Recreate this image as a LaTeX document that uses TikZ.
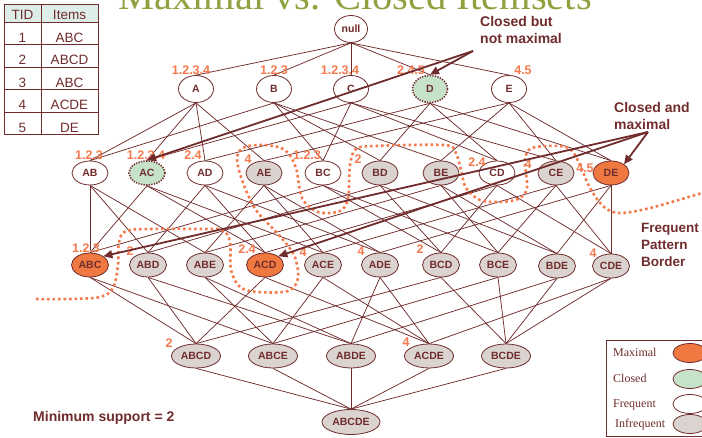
\documentclass[tikz,border=0pt]{standalone}
\usepackage{fontspec}
\setmainfont{Liberation Sans}
\newfontfamily\serifface{Liberation Serif}
\usetikzlibrary{shapes.geometric,backgrounds,arrows.meta}

\definecolor{lineclr}{RGB}{112,44,44}
\definecolor{supclr}{RGB}{244,121,76}
\definecolor{maxclr}{RGB}{240,121,66}
\definecolor{clsclr}{RGB}{198,227,201}
\definecolor{infclr}{RGB}{218,211,208}
\definecolor{titleclr}{RGB}{143,162,64}
\definecolor{headclr}{RGB}{221,237,232}

\begin{document}
\begin{tikzpicture}[x=1pt,y=-1pt,
  set/.style={ellipse,draw=lineclr,line width=0.8pt,inner sep=0pt,text=lineclr,
              font=\bfseries\fontsize{10.5}{12}\selectfont},
  freq/.style={set,fill=white},
  infreq/.style={set,fill=infclr},
  maxi/.style={set,fill=maxclr},
  closedset/.style={set,fill=clsclr,line width=1.6pt,dash pattern=on 1.3pt off 1.3pt},
  lvla/.style={minimum width=35pt,minimum height=27pt},
  lvlb/.style={minimum width=36pt,minimum height=24pt},
  lvlc/.style={minimum width=37pt,minimum height=24pt},
  lvld/.style={minimum width=49pt,minimum height=24pt},
  lvle/.style={minimum width=58pt,minimum height=25pt},
  sup/.style={text=supclr,inner sep=0pt,font=\bfseries\fontsize{12.5}{14}\selectfont},
  note/.style={text=lineclr,inner sep=0pt,align=left,anchor=base west,
               font=\bfseries\fontsize{14}{17}\selectfont},
  tabtext/.style={text=lineclr,inner sep=0pt,anchor=base,font=\fontsize{13.5}{15}\selectfont},
  legtext/.style={text=lineclr,inner sep=0pt,anchor=base west,font=\serifface\fontsize{12}{14}\selectfont},
  edge/.style={draw=lineclr,line width=0.75pt},
  callout/.style={draw=lineclr,line width=1.8pt,-{Triangle[length=9pt,width=8pt]}},
  fpb/.style={draw=supclr,line width=2.6pt,dash pattern=on 2.6pt off 2.9pt}
]
\useasboundingbox (0,0) rectangle (702,438);
\clip (0,0) rectangle (702,438);

% title (runs off the top edge)
\node[anchor=base,text=titleclr,inner sep=0pt,font=\serifface\fontsize{40.5}{42}\selectfont]
  (title) at (355,10) {Maximal vs. Closed Itemsets};

% transaction table
\fill[headclr] (4,4) rectangle (98,22);
\draw[lineclr,line width=0.9pt] (4,4) rectangle (98,134.5);
\foreach \yy in {22,44.5,67,89.5,112} \draw[lineclr,line width=0.9pt] (4,\yy) -- (98,\yy);
\draw[lineclr,line width=0.9pt] (41,4) -- (41,134.5);
\node[tabtext] (tidH) at (22.5,20) {TID};
\node[tabtext] (itemsH) at (69.5,20) {Items};
\foreach \r/\yy/\it in {1/42.5/ABC,2/65/ABCD,3/87.5/ABC,4/110/ACDE,5/132.5/DE}{
  \node[tabtext] (tid\r) at (22.5,\yy) {\r};
  \node[tabtext] (items\r) at (69.5,\yy) {\it};
}

% itemset lattice
\node[freq,minimum width=33pt,minimum height=27pt] (null) at (351,29) {null};

\node[freq,lvla] (A) at (196,89) {A};
\node[freq,lvla] (B) at (274,89) {B};
\node[freq,lvla] (C) at (351,89) {C};
\node[closedset,lvla] (D) at (430,89) {D};
\node[freq,lvla] (E) at (509,89) {E};

\node[freq,lvlb] (AB) at (90,173) {AB};
\node[closedset,lvlb] (AC) at (147,173) {AC};
\node[freq,lvlb] (AD) at (205,173) {AD};
\node[infreq,lvlb] (AE) at (264,173) {AE};
\node[freq,lvlb] (BC) at (323,173) {BC};
\node[infreq,lvlb] (BD) at (380,173) {BD};
\node[infreq,lvlb] (BE) at (441,173) {BE};
\node[freq,lvlb] (CD) at (497,173) {CD};
\node[infreq,lvlb] (CE) at (556,173) {CE};
\node[maxi,lvlb] (DE) at (611,173) {DE};

\node[maxi,lvlc] (ABC) at (90,265) {ABC};
\node[infreq,lvlc] (ABD) at (148,265) {ABD};
\node[infreq,lvlc] (ABE) at (205,265) {ABE};
\node[maxi,lvlc] (ACD) at (265,265) {ACD};
\node[infreq,lvlc] (ACE) at (323,265) {ACE};
\node[infreq,lvlc] (ADE) at (380,265) {ADE};
\node[infreq,lvlc] (BCD) at (441,265) {BCD};
\node[infreq,lvlc] (BCE) at (498,265) {BCE};
\node[infreq,lvlc] (BDE) at (557,266) {BDE};
\node[infreq,lvlc] (CDE) at (611,266) {CDE};

\node[infreq,lvld] (ABCD) at (196,356) {ABCD};
\node[infreq,lvld] (ABCE) at (273,356) {ABCE};
\node[infreq,lvld] (ABDE) at (351,356) {ABDE};
\node[infreq,lvld] (ACDE) at (429,356) {ACDE};
\node[infreq,lvld] (BCDE) at (506,356) {BCDE};

\node[infreq,lvle] (ABCDE) at (351,422) {ABCDE};

% subset edges, behind the ellipses
\begin{scope}[on background layer]
\foreach \c/\ps in {A/{null},B/{null},C/{null},D/{null},E/{null},
  AB/{A,B},AC/{A,C},AD/{A,D},AE/{A,E},BC/{B,C},BD/{B,D},BE/{B,E},CD/{C,D},CE/{C,E},DE/{D,E},
  ABC/{AB,AC,BC},ABD/{AB,AD,BD},ABE/{AB,AE,BE},ACD/{AC,AD,CD},ACE/{AC,AE,CE},
  ADE/{AD,AE,DE},BCD/{BC,BD,CD},BCE/{BC,BE,CE},BDE/{BD,BE,DE},CDE/{CD,CE,DE},
  ABCD/{ABC,ABD,ACD,BCD},ABCE/{ABC,ABE,ACE,BCE},ABDE/{ABD,ABE,ADE,BDE},
  ACDE/{ACD,ACE,ADE,CDE},BCDE/{BCD,BCE,BDE,CDE},
  ABCDE/{ABCD,ABCE,ABDE,ACDE,BCDE}}{
  \foreach \p in \ps {\draw[edge] (\p.south) -- (\c.north);}
}
\end{scope}

% supporting transaction ids
\node[sup] (tA) at (191,70) {1.2.3.4};
\node[sup] (tB) at (274,70) {1.2.3};
\node[sup] (tC) at (340,70) {1.2.3.4};
\node[sup] (tD) at (411,70) {2.4.5};
\node[sup] (tE) at (523,70) {4.5};
\node[sup] (tAB) at (89,155) {1.2.3};
\node[sup] (tAC) at (146,155) {1.2.3.4};
\node[sup] (tAD) at (193,155) {2.4};
\node[sup] (tAE) at (248,159) {4};
\node[sup] (tBC) at (307,155) {1.2.3};
\node[sup] (tBD) at (358,159) {2};
\node[sup] (tCD) at (477,162) {2.4};
\node[sup] (tCE) at (528,164) {4};
\node[sup] (tDE) at (585,168) {4.5};
\node[sup] (tABC) at (86,248) {1.2.3};
\node[sup] (tABD) at (130,251) {2};
\node[sup] (tACD) at (247,249) {2.4};
\node[sup] (tACE) at (303,252) {4};
\node[sup] (tADE) at (361,251) {4};
\node[sup] (tBCD) at (420,249) {2};
\node[sup] (tCDE) at (593,253) {4};
\node[sup] (tABCD) at (169,343) {2};
\node[sup] (tACDE) at (406,342) {4};

% frequent pattern border
\draw[fpb] plot[smooth,tension=0.55] coordinates {
  (36,299) (70,299) (100,297) (113,288) (118,265) (119,242) (126,231) (150,229)
  (200,229) (222,230) (230,242) (231,270) (240,287) (258,292) (288,291) (298,278)
  (294,255) (278,234) (256,210) (242,180) (237,157) (245,147) (265,145) (285,150)
  (296,168) (302,198) (318,212) (340,211) (348,198) (350,165) (356,149) (375,146)
  (443,145) (455,151) (461,170) (466,188) (480,200) (500,202) (518,199) (527,188)
  (525,160) (532,148) (560,146) (572,151) (580,165) (590,188) (604,207) (620,213)
  (650,208) (702,193)};
% multi-line notes are anchored at the baseline of their last line
\node[note,font=\bfseries\fontsize{13.5}{17}\selectfont] (fpbText) at (641,267)
  {Frequent\\Pattern\\Border};

% callouts
\node[note] (cbnmText) at (480,44) {Closed but\\not maximal};
\node[note] (camText) at (614,130) {Closed and\\maximal};
\coordinate (cbnmTail) at (473,51);
\coordinate (camTail) at (648,132);
\draw[callout] (cbnmTail) -- (D.north);
\draw[callout] (cbnmTail) -- (AC.north);
\draw[callout] (camTail) -- (DE.north east);
\draw[callout] (camTail) -- (ABC.north east);
\draw[callout] (camTail) -- (ACD.north east);

\node[note,font=\bfseries\fontsize{14}{16}\selectfont] (minsup) at (33,421) {Minimum support = 2};

% legend
\draw[lineclr,line width=0.8pt] (606,340) rectangle (712,436);
\node[legtext] (lgMax) at (613,357) {Maximal};
\node[legtext] (lgCls) at (613,383) {Closed};
\node[legtext] (lgFrq) at (613,407) {Frequent};
\node[legtext] (lgInf) at (615,428) {Infrequent};
\node[maxi,minimum width=34pt,minimum height=19pt] (lgMaxE) at (690,353) {};
\node[set,fill=clsclr,minimum width=34pt,minimum height=19pt] (lgClsE) at (690,379) {};
\node[freq,minimum width=34pt,minimum height=19pt] (lgFrqE) at (690,404) {};
\node[infreq,minimum width=34pt,minimum height=19pt] (lgInfE) at (690,424) {};
\end{tikzpicture}
\end{document}
